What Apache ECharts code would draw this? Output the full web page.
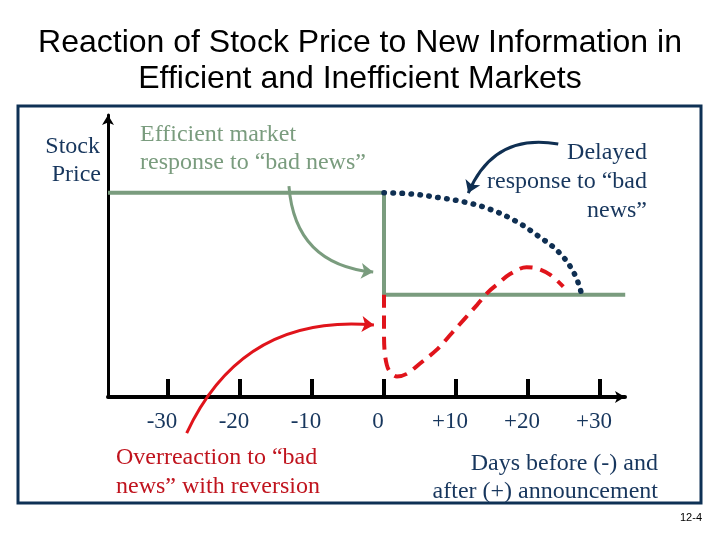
<!DOCTYPE html>
<html>
<head>
<meta charset="utf-8">
<script src="https://cdn.jsdelivr.net/npm/echarts@6/dist/echarts.min.js"></script>
<style>
html,body{margin:0;padding:0;background:#fff;}
#chart{width:720px;height:540px;}
</style>
</head>
<body>
<div id="chart"></div>
<script>
// ---- Data (days relative to announcement, stock price in arbitrary units) ----
var tickDays = [-30, -20, -10, 0, 10, 20, 30];

// Efficient market response: step down at day 0
var efficientX = [-38.33, 0, 0, 33.5];
var efficientY = [72.4, 72.4, 36.3, 36.3];

// Delayed response (dotted)
var delayedX = [0, 3.85, 7.64, 11.25, 14.7, 18.2, 21.3, 24.3, 26.4, 27.4];
var delayedY = [72.4, 72.0, 70.7, 69.1, 66.6, 62.5, 57.3, 51.3, 43.9, 36.9];

// Overreaction with reversion (dashed)
var overX = [0, 0, 0.07, 0.4, 0.83, 1.8, 3.15, 5.0, 7.3, 9.4, 11.25, 12.9, 14.5, 15.9, 17.5, 19.8, 21.2, 23.1, 24.9];
var overY = [36.3, 23.8, 16.7, 11.3, 9.0, 7.3, 8.2, 11.9, 16.7, 22.6, 27.9, 32.6, 37.3, 40.3, 43.6, 46.0, 45.6, 43.3, 39.1];

// Annotation arrows (start, end) in data space
var greenArrow = [[-13.2, 74.8], [-1.5, 44.3]];
var navyArrow = [[24.2, 89.7], [11.7, 72.3]];
var redArrow = [[-27.4, -12.8], [-1.4, 25.5]];

function zip(xs, ys) { return xs.map(function (x, i) { return [x, ys[i]]; }); }

var NAVY = '#17365d';
var GREEN = '#7a9c7e';
var RED = '#e0141b';
var SERIF = '"Liberation Serif","Times New Roman",serif';
var SANS = '"Liberation Sans",Arial,sans-serif';

var chart = echarts.init(document.getElementById('chart'), null, {renderer: 'canvas'});

function txt(text, x, y, color, align, size, font) {
  return {
    type: 'text', x: x, y: y, z: 10,
    style: {
      text: text, fill: color, align: align, verticalAlign: 'middle',
      font: (size || 24) + 'px ' + (font || SERIF)
    }
  };
}

var option = {
  animation: false,
  backgroundColor: '#ffffff',
  grid: {left: 108, right: 95, top: 115, bottom: 143},
  xAxis: {
    type: 'value', min: -38.33, max: 33.47,
    splitLine: {show: false},
    axisLine: {onZero: false, lineStyle: {color: '#000', width: 4}, symbol: ['none', 'arrow'], symbolSize: [9, 10]},
    axisTick: {show: true, inside: true, length: 18, lineStyle: {color: '#000', width: 4}, customValues: tickDays},
    axisLabel: {
      customValues: tickDays, margin: 13, color: NAVY, fontSize: 23, fontFamily: SERIF,
      padding: [0, 12, 0, 0],
      formatter: function (v) { return v > 0 ? '+' + v : String(v); }
    }
  },
  yAxis: {
    type: 'value', min: 0, max: 100,
    splitLine: {show: false},
    axisLine: {show: true, onZero: false, lineStyle: {color: '#000', width: 3}, symbol: ['none', 'arrow'], symbolSize: [9, 10]},
    axisTick: {show: false},
    axisLabel: {show: false}
  },
  series: [
    {
      type: 'line', data: zip(efficientX, efficientY), showSymbol: false, symbol: 'none',
      lineStyle: {color: GREEN, width: 4}, z: 3
    },
    {
      type: 'line', data: zip(delayedX, delayedY), showSymbol: false, symbol: 'none', smooth: 0.4,
      lineStyle: {color: '#0f2f52', width: 5.5, type: [0.5, 8.5], cap: 'round'}, z: 4
    },
    {
      type: 'line', data: zip(overX, overY), showSymbol: false, symbol: 'none', smooth: 0.35,
      lineStyle: {color: RED, width: 4, type: [13, 8]}, z: 5
    },
    {
      type: 'lines', coordinateSystem: 'cartesian2d', clip: false, z: 6,
      symbol: ['none', 'arrow'], symbolSize: 12,
      lineStyle: {color: GREEN, width: 3, curveness: -0.42, opacity: 1},
      data: [{coords: greenArrow}]
    },
    {
      type: 'lines', coordinateSystem: 'cartesian2d', clip: false, z: 6,
      symbol: ['none', 'arrow'], symbolSize: 12,
      lineStyle: {color: '#0f2f52', width: 3, curveness: -0.4, opacity: 1},
      data: [{coords: navyArrow}]
    },
    {
      type: 'lines', coordinateSystem: 'cartesian2d', clip: false, z: 6,
      symbol: ['none', 'arrow'], symbolSize: 12,
      lineStyle: {color: RED, width: 3, curveness: 0.35, opacity: 1},
      data: [{coords: redArrow}]
    }
  ],
  graphic: [
    {type: 'rect', z: 1, shape: {x: 18, y: 106, width: 683, height: 397},
     style: {fill: 'none', stroke: '#0e3155', lineWidth: 3}},
    txt('Reaction of Stock Price to New Information in', 360, 43, '#000', 'center', 32, SANS),
    txt('Efficient and Inefficient Markets', 360, 79, '#000', 'center', 32, SANS),
    txt('Stock', 100, 147, NAVY, 'right'),
    txt('Price', 101, 175, NAVY, 'right'),
    txt('Efficient market', 140, 135, GREEN, 'left'),
    txt('response to \u201cbad news\u201d', 140, 163, GREEN, 'left'),
    txt('Delayed', 647, 153, NAVY, 'right'),
    txt('response to \u201cbad', 647, 182, NAVY, 'right'),
    txt('news\u201d', 647, 211, NAVY, 'right'),
    txt('Overreaction to \u201cbad', 116, 458, '#c0141e', 'left'),
    txt('news\u201d with reversion', 116, 487, '#c0141e', 'left'),
    txt('Days before (-) and', 658, 464, NAVY, 'right'),
    txt('after (+) announcement', 658, 492, NAVY, 'right'),
    txt('12-4', 702, 518, '#000', 'right', 11, SANS)
  ]
};
chart.setOption(option);
</script>
</body>
</html>
